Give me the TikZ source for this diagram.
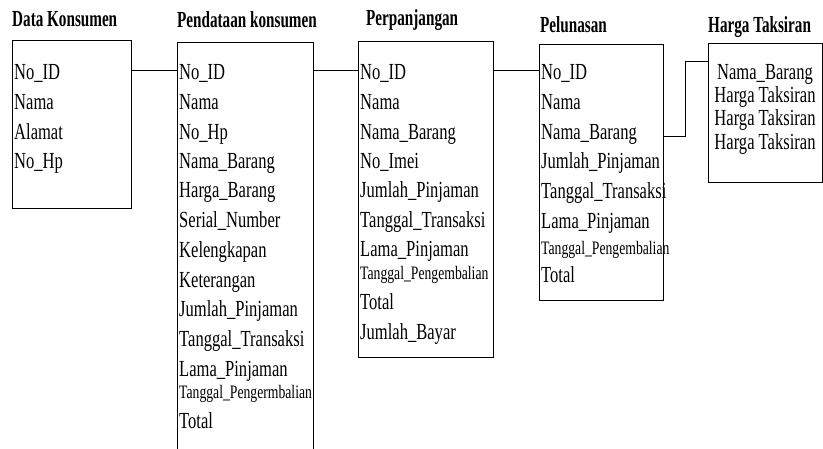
\documentclass[tikz,border=0pt]{standalone}
\usepackage{fontspec}
\setmainfont[FakeStretch=0.72]{Liberation Serif}
\newfontfamily\headfont[FakeStretch=0.66]{Liberation Serif}
\usepackage{tikz}
\usetikzlibrary{calc}
\newcommand{\fieldsize}{\fontsize{23}{27}\selectfont}
\newcommand{\smallfield}{\fontsize{19}{22}\selectfont}
\newcommand{\titlesize}{\fontsize{23}{27}\selectfont\headfont\bfseries}
\tikzstyle{entity}=[draw, line width=1pt, anchor=north west, inner sep=0pt, outer sep=0pt]
\tikzstyle{field}=[anchor=west, inner sep=0pt, text height=19pt, text depth=0pt, font=\fieldsize]
\tikzstyle{fieldS}=[field, font=\smallfield]
\tikzstyle{fieldC}=[field, anchor=center]
\tikzstyle{title}=[anchor=west, inner sep=0pt, text height=19pt, text depth=0pt, font=\titlesize]
\tikzstyle{link}=[line width=1pt]

\begin{document}
\begin{tikzpicture}[x=1pt, y=-1pt]
      \useasboundingbox (0,0) rectangle (823,448);
      \node(dkT) [title] at (12,17){Data Konsumen};
      \node(pkT) [title] at (177,18){Pendataan konsumen};
      \node(ppT) [title] at (366,16){Perpanjangan};
      \node(plT) [title] at (540,23){Pelunasan};
      \node(htT) [title] at (708,23){Harga Taksiran};
      \node(dk) [entity, minimum width=119pt, minimum height=168pt] at (12,40){};
      \node(pk) [entity, minimum width=136pt, minimum height=420pt] at (177,42){};
      \node(pp) [entity, minimum width=135pt, minimum height=316pt] at (358,41){};
      \node(pl) [entity, minimum width=124pt, minimum height=256pt] at (539,44){};
      \node(ht) [entity, minimum width=114pt, minimum height=139pt] at (708,43){};
      \node(dk1) [field] at (14,70){No\_ID};
      \node(dk2) [field] at (14,100){Nama};
      \node(dk3) [field] at (14,130){Alamat};
      \node(dk4) [field] at (14,159){No\_Hp};
      \node(pk1) [field] at (179,70){No\_ID};
      \node(pk2) [field] at (179,100){Nama};
      \node(pk3) [field] at (179,130){No\_Hp};
      \node(pk4) [field] at (179,159){Nama\_Barang};
      \node(pk5) [field] at (179,188){Harga\_Barang};
      \node(pk6) [field] at (179,218){Serial\_Number};
      \node(pk7) [field] at (179,248){Kelengkapan};
      \node(pk8) [field] at (179,278){Keterangan};
      \node(pk9) [field] at (179,307){Jumlah\_Pinjaman};
      \node(pk10) [field] at (179,337){Tanggal\_Transaksi};
      \node(pk11) [field] at (179,367){Lama\_Pinjaman};
      \node(pk12) [fieldS] at (179,389){Tanggal\_Pengermbalian};
      \node(pk13) [field] at (179,419){Total};
      \node(pp1) [field] at (360,70){No\_ID};
      \node(pp2) [field] at (360,100){Nama};
      \node(pp3) [field] at (360,130){Nama\_Barang};
      \node(pp4) [field] at (360,159){No\_Imei};
      \node(pp5) [field] at (360,188){Jumlah\_Pinjaman};
      \node(pp6) [field] at (360,218){Tanggal\_Transaksi};
      \node(pp7) [field] at (360,247){Lama\_Pinjaman};
      \node(pp8) [fieldS] at (360,270){Tanggal\_Pengembalian};
      \node(pp9) [field] at (360,300){Total};
      \node(pp10) [field] at (360,330){Jumlah\_Bayar};
      \node(pl1) [field] at (541,70){No\_ID};
      \node(pl2) [field] at (541,100){Nama};
      \node(pl3) [field] at (541,130){Nama\_Barang};
      \node(pl4) [field] at (541,159){Jumlah\_Pinjaman};
      \node(pl5) [field] at (541,189){Tanggal\_Transaksi};
      \node(pl6) [field] at (541,219){Lama\_Pinjaman};
      \node(pl7) [fieldS] at (541,245){Tanggal\_Pengembalian};
      \node(pl8) [field] at (541,273){Total};
      \node(ht1) [fieldC] at (765,70){Nama\_Barang};
      \node(ht2) [fieldC] at (765,93){Harga Taksiran};
      \node(ht3) [fieldC] at (765,116){Harga Taksiran};
      \node(ht4) [fieldC] at (765,140){Harga Taksiran};
      \draw[link] (dk.east |- dk1) to (pk.west |- pk1);
      \draw[link] (pk.east |- pk1) to (pp.west |- pp1);
      \draw[link] (pp.east |- pp1) to (pl.west |- pl1);
      \draw[link] ([yshift=-6pt]pl.east |- pl3) -- ++(22,0) |- ([yshift=-18pt]ht.north west);
    \end{tikzpicture}
\end{document}
